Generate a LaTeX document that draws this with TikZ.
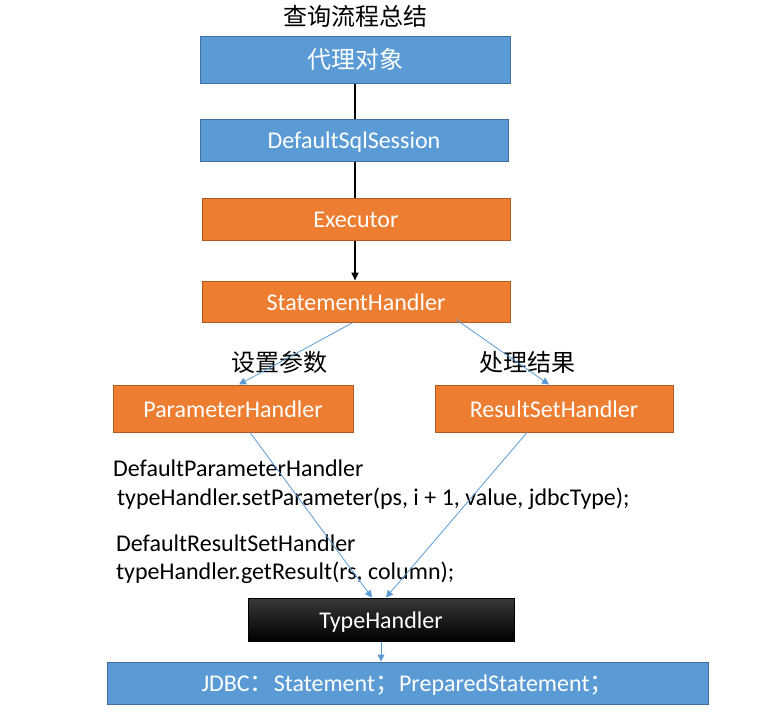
\documentclass[tikz,border=0pt]{standalone}
\usepackage{fontspec}
\setmainfont{Carlito}
\newfontfamily\cjk{Noto Sans CJK SC}
\usetikzlibrary{arrows.meta}
\definecolor{bfill}{RGB}{91,155,213}
\definecolor{bdraw}{RGB}{65,113,156}
\definecolor{ofill}{RGB}{237,125,49}
\definecolor{odraw}{RGB}{174,90,33}
\definecolor{bline}{RGB}{91,155,213}
\tikzset{
  box/.style={minimum height=#1, inner sep=0pt, line width=1pt, text=white,
    text height=19pt, text depth=2pt,
    font=\fontsize{24}{28}\selectfont},
  bluebox/.style={box=42pt, fill=bfill, draw=bdraw},
  orangebox/.style={box=42pt, fill=ofill, draw=odraw},
  blackline/.style={draw=black, line width=1.6pt},
  blueline/.style={draw=bline, line width=0.8pt, -{Triangle[width=7pt,length=7pt]}},
  lbl/.style={font=\fontsize{24}{28}\selectfont\cjk, inner sep=0pt},
  code/.style={font=\fontsize{24}{28}\selectfont, inner sep=0pt, anchor=base west}
}
\begin{document}
\begin{tikzpicture}[x=1pt,y=-1pt]
\useasboundingbox (0,0) rectangle (758,715);
\node[lbl] (title) at (355,16) {查询流程总结};
\node[bluebox, box=47pt, minimum width=310pt, font=\fontsize{24}{28}\selectfont\cjk] (proxy) at (355,59.5) {代理对象};
\node[bluebox, minimum width=308pt] (dss) at (354,140) {DefaultSqlSession};
\node[orangebox, minimum width=308pt] (exec) at (356,219) {Executor};
\node[orangebox, box=41pt, minimum width=308pt] (sh) at (356,301.5) {StatementHandler};
\node[orangebox, box=47pt, minimum width=240pt] (ph) at (233,408.5) {ParameterHandler};
\node[orangebox, box=47pt, minimum width=238pt] (rsh) at (554,408.5) {ResultSetHandler};
\node[box=43pt, minimum width=266pt, draw=black, top color=black!78, middle color=black, bottom color=black] (th) at (381,619.5) {TypeHandler};
\node[bluebox, minimum width=601pt] (jdbc) at (407.5,683) {JDBC{\cjk ：}Statement{\cjk ；}PreparedStatement{\cjk ；}};

\node[lbl] (setp) at (279,362) {设置参数};
\node[lbl] (proc) at (527,362) {处理结果};

\node[code] (c1) at (113,476) {DefaultParameterHandler};
\node[code] (c2) at (117,505) {typeHandler.setParameter(ps, i + 1, value, jdbcType);};
\node[code] (c3) at (116,551) {DefaultResultSetHandler};
\node[code] (c4) at (116,579) {typeHandler.getResult(rs, column);};

\draw[blackline] (proxy.south) -- (proxy.south |- dss.north);
\draw[blackline] (dss.south -| proxy.south) -- (proxy.south |- exec.north);
\draw[blackline, -{Triangle[width=7pt,length=8pt]}] ([xshift=-1pt]exec.south) -- ([xshift=-1pt]sh.north);

\draw[blueline] ([xshift=-3pt]sh.south) -- ([xshift=6pt]ph.north);
\draw[blueline] ([xshift=100pt,yshift=3pt]sh.south) -- ([xshift=-5pt]rsh.north);
\draw[blueline] ([xshift=17pt]ph.south) -- ([xshift=-9pt]th.north);
\draw[blueline] ([xshift=-27pt]rsh.south) -- ([xshift=5pt]th.north);
\draw[blueline] (th.south) -- (th.south |- jdbc.north);
\end{tikzpicture}
\end{document}
